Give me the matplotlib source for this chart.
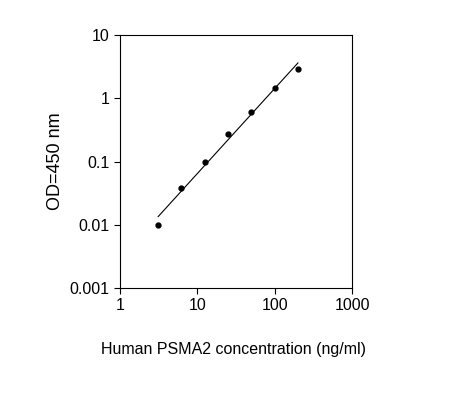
import numpy as np
import matplotlib
matplotlib.use("Agg")
import matplotlib.pyplot as plt
from matplotlib.ticker import FixedLocator, FixedFormatter, NullLocator

plt.rcParams['font.family'] = ['Liberation Sans', 'DejaVu Sans']

conc = [3.125, 6.25, 12.5, 25, 50, 100, 200]
od = [0.010, 0.038, 0.098, 0.27, 0.60, 1.45, 2.9]
x_ticks = [1, 10, 100, 1000]
x_labels = ['1', '10', '100', '1000']
y_ticks = [0.001, 0.01, 0.1, 1, 10]
y_labels = ['0.001', '0.01', '0.1', '1', '10']

fig = plt.figure(figsize=(4.49, 4.0), dpi=100)
ax = fig.add_axes([0.267, 0.28, 0.517, 0.6325])

# power-law fit in log-log space
slope, icpt = np.polyfit(np.log10(conc), np.log10(od), 1)
xf = np.array([conc[0], conc[-1]])
ax.plot(xf, 10 ** (icpt + slope * np.log10(xf)), color='black', lw=0.8)
ax.plot(conc, od, 'o', color='black', ms=3.5)

ax.set_xscale('log')
ax.set_yscale('log')
ax.set_xlim(1, 1000)
ax.set_ylim(0.001, 10)
ax.xaxis.set_major_locator(FixedLocator(x_ticks))
ax.xaxis.set_major_formatter(FixedFormatter(x_labels))
ax.yaxis.set_major_locator(FixedLocator(y_ticks))
ax.yaxis.set_major_formatter(FixedFormatter(y_labels))
ax.xaxis.set_minor_locator(NullLocator())
ax.yaxis.set_minor_locator(NullLocator())
ax.tick_params(direction='out', labelsize=11.5, length=4)
for s in ax.spines.values():
    s.set_linewidth(0.8)

ax.set_ylabel('OD=450 nm', fontsize=13, labelpad=4)
fig.text(0.52, 0.115, 'Human PSMA2 concentration (ng/ml)', ha='center', fontsize=11.5)

fig.savefig('out.png', dpi=100)
